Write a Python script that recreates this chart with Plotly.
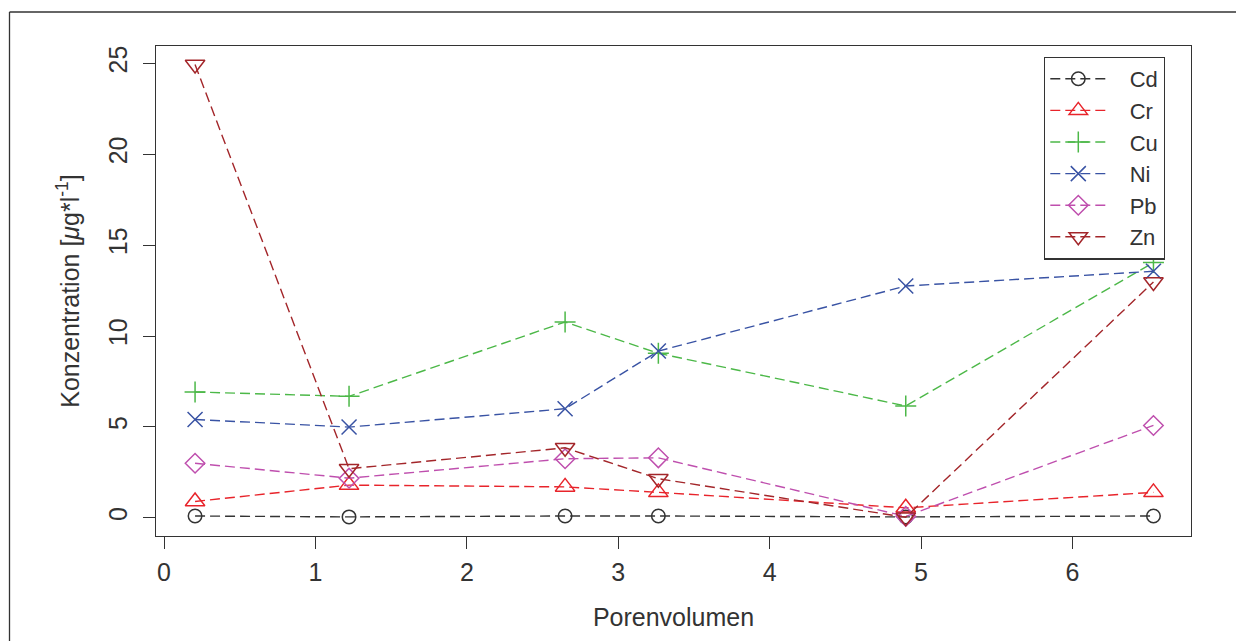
import plotly.graph_objects as go

# Pore volumes at which the effluent was sampled
porenvolumen = [0.205, 1.222, 2.649, 3.265, 4.899, 6.535]

# Heavy-metal concentrations in the effluent [µg/l]
cd = [0.10, 0.05, 0.10, 0.10, 0.05, 0.10]
cr = [0.90, 1.80, 1.70, 1.40, 0.55, 1.40]
cu = [6.92, 6.68, 10.77, 9.05, 6.15, 14.04]
ni = [5.41, 4.99, 6.00, 9.17, 12.75, 13.56]
pb = [3.00, 2.18, 3.25, 3.30, 0.08, 5.08]
zn = [24.93, 2.70, 3.85, 2.15, 0.03, 12.97]

series_names = ["Cd", "Cr", "Cu", "Ni", "Pb", "Zn"]
series_values = [cd, cr, cu, ni, pb, zn]
series_colors = ["#333333", "#e8242b", "#4cb848", "#3953a4", "#bf4fae", "#a3262a"]
series_symbols = ["circle-open", "triangle-up-open", "cross-thin-open",
                  "x-thin-open", "diamond-open", "triangle-down-open"]
series_sizes = [13.5, 17, 15, 15, 15, 17]

x_ticks = [0, 1, 2, 3, 4, 5, 6]
y_ticks = [0, 5, 10, 15, 20, 25]

FONT = "Liberation Sans, Arial, Helvetica, sans-serif"
INK = "#333333"
GAP = "\u00a0\u00a0\u00a0"  # spacing between legend sample and its label

fig = go.Figure()
for name, vals, col, sym, sz in zip(series_names, series_values, series_colors,
                                    series_symbols, series_sizes):
    fig.add_trace(go.Scatter(
        x=porenvolumen, y=vals, name=GAP + name, mode="lines+markers",
        line=dict(color=col, width=1.4, dash="10px,5px"),
        marker=dict(symbol=sym, size=sz, color=col, line=dict(color=col, width=1.5)),
    ))

W, H = 1244, 641
ML, MR, MT, MB = 156, 53, 46, 105
pw, ph = W - ML - MR, H - MT - MB


def px_to_paper_x(px):
    return (px - ML) / pw


def px_to_paper_y(py):
    return (H - MB - py) / ph


axis_common = dict(
    showline=True, mirror=True, linecolor=INK, linewidth=1.3,
    ticks="outside", tickcolor=INK, tickwidth=1.3, ticklen=12,
    showgrid=False, zeroline=False,
    tickfont=dict(family=FONT, size=25, color=INK),
)

fig.update_layout(
    width=W, height=H,
    margin=dict(l=ML, r=MR, t=MT, b=MB, autoexpand=False),
    paper_bgcolor="white", plot_bgcolor="white",
    font=dict(family=FONT, size=25, color=INK),
    xaxis=dict(
        range=[-0.053, 6.783], tickvals=x_ticks, ticktext=[str(v) for v in x_ticks],
        title=dict(text="Porenvolumen", font=dict(family=FONT, size=25, color=INK), standoff=23),
        ticklabelstandoff=2,
        **axis_common,
    ),
    yaxis=dict(
        range=[-1.0, 25.95], tickvals=y_ticks, ticktext=[str(v) for v in y_ticks],
        tickangle=-90,
        title=dict(text="Konzentration [<i>μ</i>g*l<sup>-1</sup>]",
                   font=dict(family=FONT, size=25, color=INK), standoff=17),
        ticklabelstandoff=6,
        **axis_common,
    ),
    legend=dict(
        x=px_to_paper_x(1165), y=px_to_paper_y(56.7), xanchor="right", yanchor="top",
        bordercolor=INK, borderwidth=1.3, bgcolor="white",
        font=dict(family=FONT, size=22, color=INK),
        itemwidth=56, tracegroupgap=0,
    ),
    showlegend=True,
)

# Outer frame around the figure panel (top and left edges)
fig.add_shape(type="line", xref="paper", yref="paper",
              x0=px_to_paper_x(9.5), x1=px_to_paper_x(1236),
              y0=px_to_paper_y(12), y1=px_to_paper_y(12),
              line=dict(color=INK, width=1.3))
fig.add_shape(type="line", xref="paper", yref="paper",
              x0=px_to_paper_x(9.5), x1=px_to_paper_x(9.5),
              y0=px_to_paper_y(12), y1=px_to_paper_y(645),
              line=dict(color=INK, width=1.3))

fig.write_html("out.html")
